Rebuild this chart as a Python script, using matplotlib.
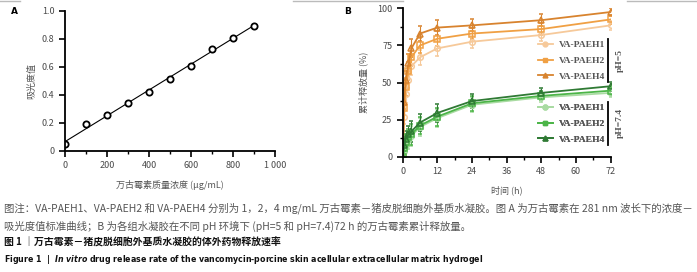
import numpy as np
import matplotlib
matplotlib.use("Agg")
import matplotlib.pyplot as plt
from matplotlib.lines import Line2D
from matplotlib.ticker import MultipleLocator

plt.rcParams['font.family'] = ['Noto Sans CJK SC', 'DejaVu Sans']

# panel A: standard curve
conc = [0, 100, 200, 300, 400, 500, 600, 700, 800, 900]
absorb = [0.05, 0.19, 0.255, 0.34, 0.425, 0.515, 0.61, 0.73, 0.81, 0.895]

# panel B: cumulative release (%)
t = [0, 0.5, 1, 2, 3, 6, 12, 24, 48, 72]
ph5_p1 = [0, 27, 42, 52, 61, 67, 73, 77.5, 82, 88.5]
ph5_p2 = [0, 33, 47, 58, 67, 75, 79.5, 83, 86, 92.5]
ph5_p4 = [0, 37, 52, 63, 73, 83, 87, 88.5, 92, 97.5]
ph7_p1 = [0, 4, 8, 11, 14, 20, 26, 35, 40, 43]
ph7_p2 = [0, 6, 10, 13, 15, 21, 27, 36, 41, 44.5]
ph7_p4 = [0, 8, 12, 15, 17, 23, 29.5, 37.5, 43, 47.5]
err5 = [0, 5, 6, 6, 6, 5, 5, 4, 4, 3]
err7 = [0, 4, 5, 6, 7, 6, 6, 5, 3, 3]
names = ["VA-PAEH1", "VA-PAEH2", "VA-PAEH4"]

W, H = 697, 272
fig = plt.figure(figsize=(W / 100, H / 100), dpi=100)

def px(l, t_, r, b):
    return [l / W, 1 - b / H, (r - l) / W, (b - t_) / H]

tick_c = "#4a4a4a"

def style(ax):
    for s in ["top", "right"]:
        ax.spines[s].set_visible(False)
    for s in ["left", "bottom"]:
        ax.spines[s].set_linewidth(1.3)
    ax.tick_params(which="major", length=4, width=1.2, labelsize=6.5, labelcolor=tick_c, pad=3.5)
    ax.tick_params(which="minor", length=2.5, width=1.0)

# ---- A
axA = fig.add_axes(px(65, 11, 275, 151))
style(axA)
k, b0 = np.polyfit(conc, absorb, 1)
xx = np.array([0, 900])
axA.plot(xx, k * xx + b0, color="black", lw=0.8)
axA.plot(conc, absorb, "o", mfc="white", mec="black", ms=4.5, mew=1.3)
axA.set_xlim(0, 1000)
axA.set_ylim(0, 1.0)
axA.set_xticks([0, 200, 400, 600, 800, 1000])
axA.set_xticklabels(["0", "200", "400", "600", "800", "1 000"])
axA.set_yticks([0, 0.2, 0.4, 0.6, 0.8, 1.0])
axA.set_yticklabels(["0", "0.2", "0.4", "0.6", "0.8", "1.0"])
axA.xaxis.set_minor_locator(MultipleLocator(100))
axA.set_xlabel("万古霉素质量浓度 (μg/mL)", fontsize=6.5, color="#555555", labelpad=7)
axA.set_ylabel("吸光度值", fontsize=6.5, color="#555555", labelpad=4)

# ---- B
axB = fig.add_axes(px(402.7, 8.3, 610.7, 156.7))
style(axB)
c5 = ["#f6c99a", "#f0a044", "#d8832e"]
c7 = ["#a9dba2", "#4cb548", "#2f7a34"]
mk = ["o", "s", "^"]
h5, h7 = [], []
for y, c, m in zip([ph5_p1, ph5_p2, ph5_p4], c5, mk):
    axB.errorbar(t, y, yerr=err5, color=c, lw=1.3, elinewidth=0.8, capsize=1.5,
                 marker=m, ms=4, mfc="none", mec=c, mew=1.1)
    h5.append(Line2D([], [], color=c, lw=1.3, marker=m, ms=3.5, mfc=c, mec=c))
for y, c, m in zip([ph7_p1, ph7_p2, ph7_p4], c7, mk):
    axB.errorbar(t, y, yerr=err7, color=c, lw=1.3, elinewidth=0.8, capsize=1.5,
                 marker=m, ms=4, mfc="none", mec=c, mew=1.1)
    h7.append(Line2D([], [], color=c, lw=1.3, marker=m, ms=3.5, mfc=c, mec=c))
axB.set_xlim(0, 72)
axB.set_ylim(0, 100)
axB.set_xticks([0, 12, 24, 36, 48, 60, 72])
axB.xaxis.set_minor_locator(MultipleLocator(6))
axB.set_yticks([0, 25, 50, 75, 100])
axB.yaxis.set_minor_locator(MultipleLocator(12.5))
axB.set_xlabel("时间 (h)", fontsize=6.5, color="#555555", labelpad=7)
axB.set_ylabel("累计释放量 (%)", fontsize=6.5, color="#555555", labelpad=6)

lfont = {"family": "Liberation Serif", "weight": "bold", "size": 6.8}
for hs, ytop in [(h5, 36), (h7, 99)]:
    lg = axB.legend(hs, names, loc="upper left", bbox_to_anchor=(533 / W, 1 - ytop / H),
                    bbox_transform=fig.transFigure, frameon=False, prop=lfont,
                    handlelength=1.6, handletextpad=0.6, labelspacing=0.75,
                    borderpad=0, labelcolor="#555555")
    axB.add_artist(lg)

for y1, y2, lab in [(39, 82, "pH=5"), (102, 145, "pH=7.4")]:
    fig.add_artist(Line2D([608 / W, 608 / W], [1 - y1 / H, 1 - y2 / H], color="black", lw=1.3))
    fig.text(620 / W, 1 - (y1 + y2) / 2 / H, lab, rotation=90, ha="center", va="center",
             fontfamily="Liberation Serif", fontweight="bold", fontsize=6.8, color="#555555")

fig.text(14 / W, 1 - 12 / H, "A", fontsize=6.5, fontweight="bold", ha="center", va="center",
         fontfamily="DejaVu Sans")
fig.text(348 / W, 1 - 12 / H, "B", fontsize=6.5, fontweight="bold", ha="center", va="center",
         fontfamily="DejaVu Sans")

# page rules at top
for x1, x2 in [(0, 20), (293, 403), (627, 697)]:
    fig.add_artist(Line2D([x1 / W, x2 / W], [1 - 0.8 / H, 1 - 0.8 / H], color="#bbbbbb", lw=1))

cap1 = "图注：VA-PAEH1、VA-PAEH2 和 VA-PAEH4 分别为 1，2，4 mg/mL 万古霉素－猪皮脱细胞外基质水凝胶。图 A 为万古霉素在 281 nm 波长下的浓度－"
cap2 = "吸光度值标准曲线；B 为各组水凝胶在不同 pH 环境下 (pH=5 和 pH=7.4)72 h 的万古霉素累计释放量。"
cap3 = "图 1 ｜万古霉素－猪皮脱细胞外基质水凝胶的体外药物释放速率"
fig.text(4 / W, 1 - 208 / H, cap1, fontsize=7.5, color="#555555", va="center")
fig.text(4 / W, 1 - 226 / H, cap2, fontsize=7.5, color="#555555", va="center")
fig.text(4 / W, 1 - 243 / H, cap3, fontsize=7.1, color="#111111", va="center", fontweight="bold")
fig.text(4 / W, 1 - 260 / H, r"Figure 1  |  $\mathbfit{In\ vitro}$ drug release rate of the vancomycin-porcine skin acellular extracellular matrix hydrogel",
         fontsize=5.7, color="#111111", va="center", fontweight="bold", fontfamily="DejaVu Sans")

fig.savefig("out.png", dpi=100)
